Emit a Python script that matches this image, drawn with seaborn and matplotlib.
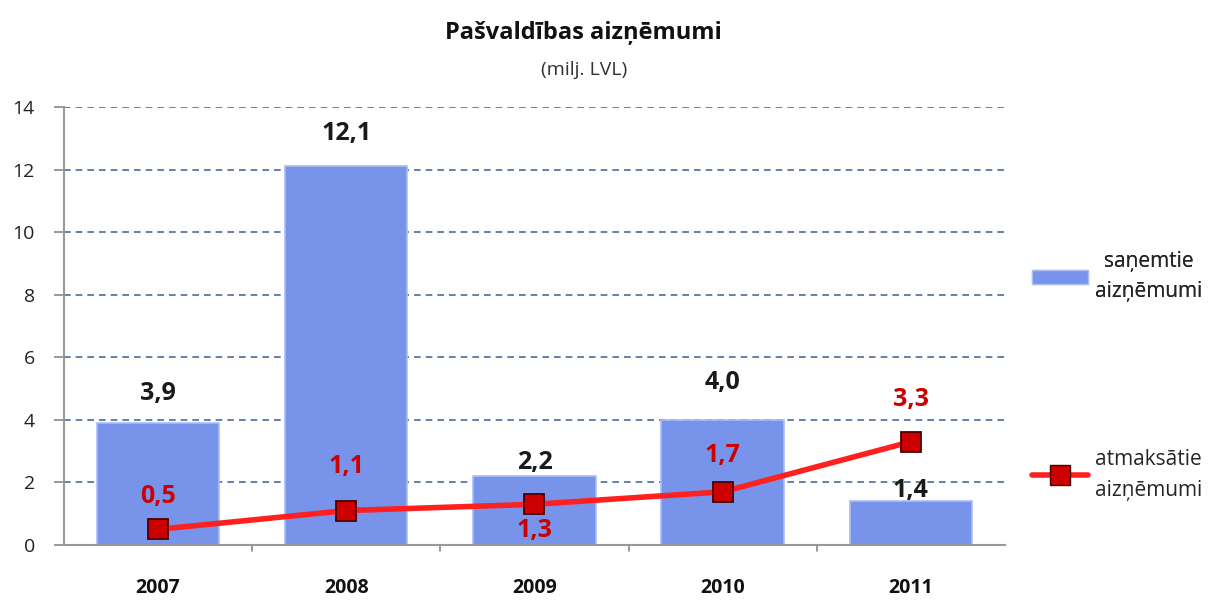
import matplotlib
matplotlib.use("Agg")
import matplotlib.pyplot as plt
import seaborn as sns
import pandas as pd
from matplotlib.lines import Line2D
from matplotlib.patches import Patch

years = ["2007", "2008", "2009", "2010", "2011"]
received = [3.9, 12.1, 2.2, 4.0, 1.4]
repaid = [0.5, 1.1, 1.3, 1.7, 3.3]
repaid_labels = ["0,5", "1,1", "1,3", "1,7", "3,3"]
received_labels = ["3,9", "12,1", "2,2", "4,0", "1,4"]
yticks = [0, 2, 4, 6, 8, 10, 12, 14]

sns.set_theme(style="white")
plt.rcParams['font.family'] = ['Open Sans', 'DejaVu Sans']

fig = plt.figure(figsize=(12.24, 6.01), dpi=100)
ax = fig.add_axes([0.0523, 0.0932, 0.7687, 0.7288])

df = pd.DataFrame({"year": years, "received": received, "repaid": repaid})
bar_color = "#7894EA"
sns.barplot(data=df, x="year", y="received", color=bar_color, width=0.65,
            saturation=1, ax=ax, zorder=2, edgecolor="#A9BEF5", linewidth=1.2)
sns.lineplot(x=list(range(len(years))), y=repaid, ax=ax, color="#FF2020",
             linewidth=4, marker="s", markersize=14,
             markerfacecolor="#CC0000", markeredgecolor="#4A0000",
             markeredgewidth=1.3, zorder=4)

ax.set_ylim(0, 14)
ax.set_xlim(-0.5, 4.5)
ax.set_yticks(yticks)
ax.set_yticklabels([str(t) for t in yticks], fontsize=14, color="#222222")
ax.set_xticks(range(len(years)))
ax.set_xticklabels(years, fontsize=14, fontweight="bold", color="#111111")
ax.tick_params(axis="x", pad=24, length=0)
ax.tick_params(axis="y", length=7, color="#888888", width=1.2, pad=14, left=True)
for t in [i + 0.5 for i in range(4)]:
    ax.plot([t, t], [0, -0.2], color="#888888", lw=1.2, clip_on=False, zorder=1)
ax.set_xlabel("")
ax.set_ylabel("")
ax.yaxis.grid(True, linestyle=(0, (4, 3)), color="#4C6C9C", linewidth=1.2)
ax.set_axisbelow(True)
for s in ["top", "right"]:
    ax.spines[s].set_visible(False)
for s in ["left", "bottom"]:
    ax.spines[s].set_color("#999999")
    ax.spines[s].set_linewidth(1.5)

bar_offsets = [0.95, 1.05, 0.45, 1.2, 0.35]
for i, (v, lab, off) in enumerate(zip(received, received_labels, bar_offsets)):
    ax.text(i, v + off, lab, ha="center", va="center", fontsize=18,
            fontweight="bold", color="#1a1a1a", zorder=5)

offsets = [1.05, 1.4, -0.85, 1.15, 1.35]
for i, (v, lab, off) in enumerate(zip(repaid, repaid_labels, offsets)):
    ax.text(i, v + off, lab, ha="center", va="center",
            fontsize=18, fontweight="bold", color="#CC0000", zorder=5)

fig.text(0.477, 0.945, "Pašvaldības aizņēmumi", ha="center", va="center",
         fontsize=17, fontweight="bold", color="#111111")
fig.text(0.477, 0.883, "(milj. LVL)", ha="center", va="center",
         fontsize=14, color="#333333")

h1 = Patch(facecolor=bar_color, edgecolor="#A9BEF5")
h2 = Line2D([], [], color="#FF2020", linewidth=4, marker="s", markersize=14,
            markerfacecolor="#CC0000", markeredgecolor="#4A0000")
leg1 = fig.legend([h1], ["saņemtie\naizņēmumi"], loc="center left",
                  bbox_to_anchor=(0.828, 0.54), frameon=False, fontsize=15,
                  handlelength=2.7, handletextpad=0.3)
for t in leg1.get_texts():
    t.set_linespacing(1.6)
    t.set_multialignment("center")
fig.add_artist(leg1)
leg2 = fig.legend([h2], ["atmaksātie\naizņēmumi"], loc="center left",
                  bbox_to_anchor=(0.828, 0.21), frameon=False, fontsize=15,
                  handlelength=2.7, handletextpad=0.3)
for t in leg2.get_texts():
    t.set_linespacing(1.6)
    t.set_multialignment("center")

fig.savefig("out.png", dpi=100)
